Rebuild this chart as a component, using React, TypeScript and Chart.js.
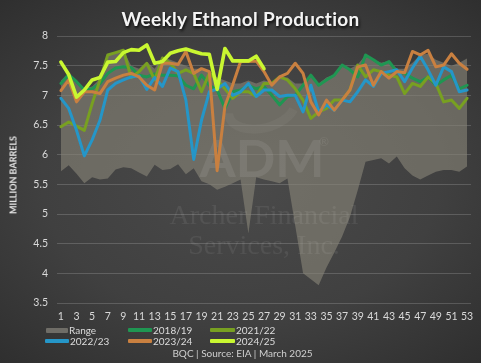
import React, { useEffect, useRef } from 'react';
import { Chart, registerables } from 'chart.js';

Chart.register(...registerables);

const weeks = ['1','2','3','4','5','6','7','8','9','10','11','12','13','14','15','16','17','18','19','20','21','22','23','24','25','26','27','28','29','30','31','32','33','34','35','36','37','38','39','40','41','42','43','44','45','46','47','48','49','50','51','52','53'];

const rangeMax = [7.25,7.38,7.25,7.12,7.15,7.28,7.68,7.72,7.76,7.5,7.45,7.56,7.45,7.65,7.6,7.55,7.5,7.45,7.45,7.4,7.3,7.25,7.2,7.2,7.25,7.2,7.25,7.22,7.31,7.3,7.2,7.2,7.35,7.2,7.3,7.35,7.52,7.45,7.52,7.68,7.6,7.55,7.58,7.45,7.45,7.55,7.68,7.7,7.6,7.55,7.5,7.55,7.62];
const rangeMin = [5.72,5.82,5.68,5.52,5.62,5.58,5.6,5.75,5.79,5.77,5.7,5.63,5.83,5.74,5.76,5.84,5.67,5.77,5.55,5.5,5.41,5.46,5.52,5.58,4.67,5.62,5.58,5.55,5.52,5.6,4.8,4.0,3.9,3.8,4.1,4.35,4.62,4.95,5.4,5.88,5.91,5.94,5.85,5.97,5.77,5.65,5.58,5.65,5.71,5.74,5.74,5.71,5.8];

const y2018_19 = [7.20,7.35,7.23,7.09,7.11,7.20,7.37,7.46,7.48,7.47,7.34,7.31,7.36,7.34,7.34,7.33,7.17,7.11,7.34,7.17,7.09,6.78,7.06,7.09,7.17,7.11,7.15,7.00,6.84,6.98,7.00,7.17,7.34,7.17,7.26,7.34,7.51,7.43,7.31,7.68,7.60,7.51,7.57,7.40,7.37,7.29,7.23,7.31,7.17,7.26,7.34,7.11,7.17];
const y2021_22 = [6.47,6.55,6.48,6.41,6.86,7.26,7.68,7.72,7.76,7.30,7.40,7.54,7.26,7.63,7.54,7.37,7.43,7.37,7.06,7.37,7.26,7.11,6.95,7.06,7.06,6.98,7.20,7.20,7.31,7.26,7.11,6.92,6.61,6.72,6.78,6.92,6.92,7.09,7.51,7.31,7.43,7.40,7.34,7.31,7.03,7.20,7.15,7.31,7.20,6.89,6.92,6.78,6.95];
const y2022_23 = [6.95,6.78,6.41,5.98,6.25,6.58,7.09,7.20,7.26,7.31,7.33,7.10,7.30,7.15,7.46,7.40,6.92,5.92,6.58,7.06,7.11,7.20,7.00,7.06,7.20,6.98,7.09,7.09,6.98,7.00,7.00,6.72,7.17,6.72,6.84,6.75,6.92,6.89,7.06,7.26,7.15,7.37,7.40,7.43,7.23,7.46,7.66,7.43,7.17,7.48,7.40,7.06,7.09];
const y2023_24 = [7.08,7.26,6.89,7.06,7.06,7.03,7.23,7.29,7.34,7.37,7.31,7.17,7.09,7.54,7.54,7.52,7.74,7.37,7.45,7.40,5.73,6.82,7.18,7.57,7.57,7.58,7.40,7.17,7.31,7.37,7.54,7.37,6.89,6.67,6.92,6.75,6.92,7.09,7.48,7.51,7.17,7.40,7.29,7.40,7.38,7.74,7.68,7.76,7.48,7.51,7.70,7.54,7.44];
const y2024_25 = [7.56,7.35,6.97,7.09,7.26,7.30,7.56,7.57,7.72,7.77,7.76,7.85,7.54,7.57,7.71,7.75,7.78,7.74,7.70,7.69,7.10,7.79,7.58,7.58,7.58,7.66,7.45];

const yTicks = [3.5, 4, 4.5, 5, 5.5, 6, 6.5, 7, 7.5, 8];

const C_RANGE = 'rgba(135,132,120,0.62)';
const C_1819 = '#1f9652';
const C_2122 = '#78a021';
const C_2223 = '#2596c8';
const C_2324 = '#c98040';
const C_2425 = '#c9f731';

const legendItems = [
  { label: 'Range', color: '#6f6d67', x: 46, y: 330, w: 22, h: 5 },
  { label: '2018/19', color: C_1819, x: 128, y: 330, w: 24, h: 4 },
  { label: '2021/22', color: C_2122, x: 210, y: 330, w: 25, h: 4 },
  { label: '2022/23', color: C_2223, x: 45, y: 341, w: 24, h: 4 },
  { label: '2023/24', color: C_2324, x: 128, y: 341, w: 24, h: 4 },
  { label: '2024/25', color: C_2425, x: 210, y: 341, w: 25, h: 4 },
];

const watermark = {
  id: 'watermark',
  afterDatasetDraw(chart: any, args: any) {
    if (args.index !== 0) return;
    const ctx = chart.ctx;
    ctx.save();
    ctx.strokeStyle = 'rgba(255,255,255,0.045)';
    ctx.lineWidth = 9;
    ctx.beginPath();
    ctx.ellipse(262, 108, 34, 20, -0.25, Math.PI * 0.15, Math.PI * 1.05);
    ctx.stroke();
    ctx.fillStyle = 'rgba(255,255,255,0.085)';
    ctx.textAlign = 'center';
    ctx.textBaseline = 'alphabetic';
    ctx.font = 'bold 52px "Lato"';
    ctx.fillText('ADM', 262, 177);
    ctx.font = '12px "Lato"';
    ctx.fillText('®', 324, 146);
    ctx.fillStyle = 'rgba(255,255,255,0.07)';
    ctx.font = '28px "Liberation Serif"';
    ctx.fillText('Archer Financial', 264, 224);
    ctx.fillText('Services, Inc.', 264, 254);
    ctx.restore();
  },
};

export default function App() {
  const ref = useRef<HTMLCanvasElement>(null);

  useEffect(() => {
    const line = (label: string, data: number[], color: string, order: number, width = 3) => ({
      label,
      data,
      borderColor: color,
      backgroundColor: color,
      borderWidth: width,
      pointRadius: 0,
      tension: 0,
      fill: false,
      order,
      borderJoinStyle: 'round' as const,
      borderCapStyle: 'round' as const,
    });
    const chart = new Chart(ref.current as HTMLCanvasElement, {
      type: 'line',
      data: {
        labels: weeks,
        datasets: [
          { label: 'Range', data: rangeMax, borderWidth: 0, pointRadius: 0, fill: '+1', backgroundColor: C_RANGE, borderColor: 'rgba(0,0,0,0)', order: 7, tension: 0 },
          { label: 'RangeMin', data: rangeMin, borderWidth: 0, pointRadius: 0, fill: false, borderColor: 'rgba(0,0,0,0)', order: 8, tension: 0 },
          line('2018/19', y2018_19, C_1819, 5),
          line('2021/22', y2021_22, C_2122, 4),
          line('2022/23', y2022_23, C_2223, 3),
          line('2023/24', y2023_24, C_2324, 2),
          line('2024/25', y2024_25, C_2425, 1, 3.6),
        ] as any,
      },
      options: {
        animation: false,
        responsive: false,
        maintainAspectRatio: false,
        layout: { padding: { top: 36, right: 10, bottom: 36, left: 0 } },
        plugins: {
          legend: { display: false },
          tooltip: { enabled: false },
          title: { display: false },
        },
        scales: {
          x: {
            type: 'category',
            offset: true,
            grid: { display: false, drawTicks: false },
            border: { display: false },
            ticks: {
              autoSkip: false,
              maxRotation: 0,
              minRotation: 0,
              padding: 7,
              color: '#d9d9d9',
              font: { family: 'Lato', size: 10.5 },
              callback: (_v: any, i: number) => (i % 2 === 0 ? weeks[i] : ''),
            },
            afterFit: (s: any) => { s.height = 24; },
          },
          y: {
            min: 3.5,
            max: 8,
            afterBuildTicks: (s: any) => { s.ticks = yTicks.map((v) => ({ value: v })); },
            grid: { color: 'rgba(255,255,255,0.17)', lineWidth: 1, drawTicks: false },
            border: { display: false },
            ticks: {
              padding: 9,
              color: '#d9d9d9',
              font: { family: 'Lato', size: 10.5 },
              callback: (v: any) => String(v),
            },
            afterFit: (s: any) => { s.width = 57; },
          },
        },
      },
      plugins: [watermark],
    });
    return () => chart.destroy();
  }, []);

  return (
    <div
      style={{
        position: 'fixed',
        left: 0,
        top: 0,
        width: 481,
        height: 363,
        overflow: 'hidden',
        background: 'radial-gradient(ellipse 75% 70% at 50% 50%, #4a4a4a 0%, #404040 55%, #2e2e2e 100%)',
        fontFamily: 'Lato, sans-serif',
      }}
    >
      <canvas ref={ref} width={481} height={363} style={{ position: 'absolute', left: 0, top: 0, width: 481, height: 363 }} />
      <div
        style={{
          position: 'absolute', left: 0, top: 6, width: 481, textAlign: 'center',
          fontSize: 19, fontWeight: 'bold', color: '#f4f4f4', lineHeight: '26px',
          letterSpacing: 0.3,
          textShadow: '1px 2px 3px rgba(0,0,0,0.85)',
        }}
      >
        Weekly Ethanol Production
      </div>
      <div
        style={{
          position: 'absolute', left: 12.5, top: 175, transform: 'translate(-50%, -50%) rotate(-90deg)',
          whiteSpace: 'nowrap', fontSize: 9, fontWeight: 'bold', color: '#e4e4e4',
        }}
      >
        MILLION BARRELS
      </div>
      {legendItems.map((it) => (
        <div key={it.label} style={{ position: 'absolute', left: it.x, top: it.y - 7, height: 14, display: 'flex', alignItems: 'center' }}>
          <div style={{ width: it.w, height: it.h, background: it.color, borderRadius: 1 }} />
          <span style={{ marginLeft: 1, fontSize: 10, color: '#dcdcdc', whiteSpace: 'nowrap' }}>{it.label}</span>
        </div>
      ))}
      <div
        style={{
          position: 'absolute', left: 2, top: 346, width: 481, textAlign: 'center',
          fontSize: 10, color: '#cfcfcf', lineHeight: '14px',
        }}
      >
        BQC | Source: EIA | March 2025
      </div>
    </div>
  );
}
